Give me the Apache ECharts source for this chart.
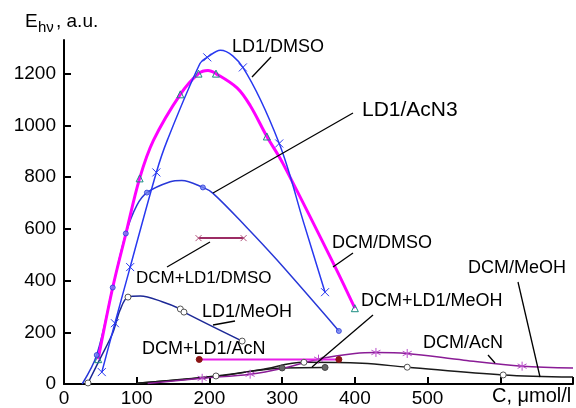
<!DOCTYPE html>
<html>
<head>
<meta charset="utf-8">
<script src="https://cdn.jsdelivr.net/npm/echarts@6/dist/echarts.min.js"></script>
<style>
  html, body { margin: 0; padding: 0; background: #fff; }
  #chart { width: 576px; height: 408px; }
</style>
</head>
<body>
<div id="chart"></div>
<script>
// x: concentration C, umol/l   y: E_hv, a.u.
// each curve: points, plus the x values that carry a marker
const ld1Dmso = [[52, 46], [70, 235], [91, 452], [127, 818], [142, 942], [187, 1239], [197, 1263], [215, 1290], [246, 1224], [296, 930], [330, 620], [359, 355]]
const ld1DmsoMarks = [52, 70, 91, 127, 197, 246, 296, 359]

const dcmDmso = [[47, 96], [67, 373], [85, 580], [104, 795], [123, 942], [160, 1120], [185, 1200], [198, 1212], [209, 1200], [238, 1145], [256, 1077], [279, 957], [301, 853], [373, 452], [400, 293]]
const dcmDmsoMarks = [47, 104, 160, 185, 209, 279, 400]

const ld1Acn3 = [[25, 0], [45, 112], [67, 373], [85, 582], [100, 690], [114, 740], [146, 782], [162, 787], [191, 760], [205, 737], [251, 606], [293, 479], [378, 205]]
const ld1Acn3Marks = [45, 67, 85, 114, 191, 378]

const ld1Meoh = [[33, 4], [50, 100], [67, 197], [77, 285], [88, 336], [105, 340], [135, 318], [160, 290], [165, 278], [245, 166]]
const ld1MeohMarks = [33, 88, 160, 165, 245]

const dcmLd1Dmso = [[185, 564], [247, 564]]
const dcmLd1Acn = [[186, 95], [378, 95]]

const dcmAcn = [[115, 2], [190, 22], [256, 38], [300, 60], [350, 96], [400, 118], [429, 122], [472, 118], [550, 92], [630, 69], [700, 62]]
const dcmAcnMarks = [190, 256, 350, 429, 472, 630]

const dcmMeoh = [[100, 3], [209, 31], [270, 55], [330, 84], [410, 80], [472, 65], [604, 35], [700, 27]]
const dcmMeohMarks = [209, 330, 472, 604]

const dcmLd1Meoh = [[100, 3], [209, 29], [300, 62], [359, 64]]
const dcmLd1MeohMarks = [300, 359]

const yTicks = [0, 200, 400, 600, 800, 1000, 1200]
const xLabels = ['0', '100', '200', '300', '400', '500', '', '']

const FONT = '"Liberation Sans", Arial, sans-serif'
const CROSS = 'path://M0,0L10,10M10,0L0,10'
const STAR = 'path://M5,0L5,10M0,2.5L10,7.5M0,7.5L10,2.5'

function curve(name, pts, marks, o) {
  return {
    name: name,
    type: 'line',
    smooth: o.smooth === undefined ? 0.35 : o.smooth,
    z: o.z || 2,
    showAllSymbol: true,
    symbolSize: o.size || 7,
    data: pts.map(p => ({ value: p, symbol: marks.includes(p[0]) ? o.symbol : 'none' })),
    lineStyle: { color: o.color, width: o.width || 1.5 },
    itemStyle: { color: o.fill || 'none', borderColor: o.mark || o.color, borderWidth: o.bw === undefined ? 1 : o.bw },
    emphasis: { disabled: true },
  }
}

// annotations, pixel positions
const labels = [
  { text: 'LD1/DMSO', x: 232, y: 47, size: 18 },
  { text: 'LD1/AcN3', x: 362, y: 110, size: 21 },
  { text: 'DCM/DMSO', x: 332, y: 243, size: 18 },
  { text: 'DCM+LD1/DMSO', x: 136, y: 278, size: 17 },
  { text: 'LD1/MeOH', x: 202, y: 312, size: 18 },
  { text: 'DCM+LD1/AcN', x: 142, y: 349, size: 18 },
  { text: 'DCM+LD1/MeOH', x: 361, y: 301, size: 18 },
  { text: 'DCM/MeOH', x: 468, y: 268, size: 18 },
  { text: 'DCM/AcN', x: 423, y: 343, size: 18 },
  { text: 'C, \u03bcmol/l', x: 492, y: 396, size: 20 },
]
const leaders = [
  [271, 57, 252, 77],
  [353, 113, 213, 193],
  [353, 253, 333, 267],
  [210, 242, 167, 267],
  [235, 321, 213, 325],
  [373, 315, 312, 367],
  [518, 282, 540, 377],
  [488, 355, 495, 363],
]

const graphic = []
labels.forEach(l => {
  graphic.push({
    type: 'text', z: 100,
    style: { text: l.text, x: l.x, y: l.y, font: l.size + 'px ' + FONT, fill: '#000', verticalAlign: 'middle' },
  })
})
leaders.forEach(s => {
  graphic.push({
    type: 'line', z: 100,
    shape: { x1: s[0], y1: s[1], x2: s[2], y2: s[3] },
    style: { stroke: '#000', lineWidth: 1.3 },
  })
})
// y axis title E_hv, a.u.
graphic.push({ type: 'text', z: 100, style: { text: 'E', x: 25, y: 22, font: '19px ' + FONT, fill: '#000', verticalAlign: 'middle' } })
graphic.push({ type: 'text', z: 100, style: { text: 'h\u03bd', x: 38, y: 28, font: '15px ' + FONT, fill: '#000', verticalAlign: 'middle' } })
graphic.push({ type: 'text', z: 100, style: { text: ', a.u.', x: 56, y: 22, font: '19px ' + FONT, fill: '#000', verticalAlign: 'middle' } })

const chart = echarts.init(document.getElementById('chart'))
chart.setOption({
  animation: false,
  backgroundColor: '#fff',
  grid: { left: 64, right: 3, top: 40, bottom: 24, containLabel: false },
  xAxis: {
    type: 'value', min: 0, max: 700, interval: 100,
    splitLine: { show: false },
    axisLine: { lineStyle: { color: '#000', width: 2 } },
    axisTick: { inside: true, length: 7, lineStyle: { color: '#000', width: 2 } },
    axisLabel: {
      margin: 5, color: '#000', fontSize: 19, fontFamily: FONT,
      formatter: v => xLabels[Math.round(v / 100)] || '',
    },
  },
  yAxis: {
    type: 'value', min: 0, max: 1330,
    splitLine: { show: false },
    axisLine: { show: true, lineStyle: { color: '#000', width: 2 } },
    axisTick: { show: true, inside: true, length: 7, customValues: yTicks, lineStyle: { color: '#000', width: 2 } },
    axisLabel: { margin: 8, color: '#000', fontSize: 19, fontFamily: FONT, customValues: yTicks, formatter: v => String(v) },
  },
  series: [
    curve('DCM/MeOH', dcmMeoh, dcmMeohMarks, { color: '#1a1a1a', symbol: 'circle', fill: '#fff', mark: '#555', size: 6 }),
    curve('DCM+LD1/MeOH', dcmLd1Meoh, dcmLd1MeohMarks, { color: '#1a1a1a', symbol: 'circle', fill: '#666', mark: '#444', size: 6 }),
    curve('DCM/AcN', dcmAcn, dcmAcnMarks, { color: '#8a1c96', symbol: STAR, mark: '#b84cc8', size: 9 }),
    curve('DCM+LD1/AcN', dcmLd1Acn, dcmLd1Acn.map(p => p[0]), { color: '#e81ee8', width: 2, symbol: 'circle', fill: '#8b1414', mark: '#8b1414', size: 6, smooth: false }),
    curve('DCM+LD1/DMSO', dcmLd1Dmso, dcmLd1Dmso.map(p => p[0]), { color: '#9c2c64', width: 2, symbol: CROSS, mark: '#b0507a', size: 6, smooth: false }),
    curve('LD1/MeOH', ld1Meoh, ld1MeohMarks, { color: '#1c2896', symbol: 'circle', fill: '#fff', mark: '#555', size: 6 }),
    curve('LD1/AcN3', ld1Acn3, [], { color: '#2838d8', symbol: 'none' }),
    curve('DCM/DMSO', dcmDmso, dcmDmsoMarks, { color: '#ff00ff', width: 3, symbol: 'triangle', mark: '#1a8c80', size: 7, z: 3 }),
    curve('LD1/DMSO', ld1Dmso, ld1DmsoMarks, { color: '#2838f0', symbol: CROSS, size: 8, z: 4 }),
    {
      name: 'LD1/AcN3 marks', type: 'scatter', z: 5, symbol: 'circle', symbolSize: 5,
      data: ld1Acn3.filter(p => ld1Acn3Marks.includes(p[0])),
      itemStyle: { color: '#7080f0', borderColor: '#2838d8', borderWidth: 1 },
      emphasis: { disabled: true },
    },
  ],
  graphic: graphic,
})
</script>
</body>
</html>
